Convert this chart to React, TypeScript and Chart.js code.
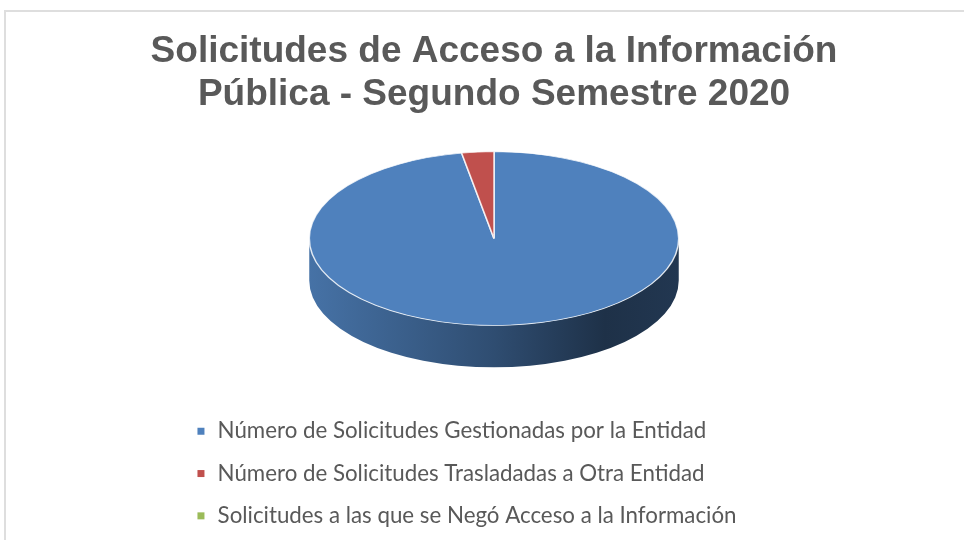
import React, { useEffect, useRef } from "react";
import { Chart, registerables } from "chart.js";

Chart.register(...registerables);

const titleLines = ["Solicitudes de Acceso a la Información", "Pública - Segundo Semestre 2020"];
const categories = [
  "Número de Solicitudes Gestionadas por la Entidad",
  "Número de Solicitudes Trasladadas a Otra Entidad",
  "Solicitudes a las que se Negó Acceso a la Información",
];
const values = [97.2, 2.8, 0];
const sliceColors = ["#4f81bd", "#c0504d", "#9bbb59"];

function shade(hex: string, f: number) {
  const n = parseInt(hex.slice(1), 16);
  const r = Math.round(((n >> 16) & 255) * f);
  const g = Math.round(((n >> 8) & 255) * f);
  const b = Math.round((n & 255) * f);
  return `rgb(${r},${g},${b})`;
}

const pie3d = {
  id: "pie3d",
  beforeDatasetsDraw(chart: any, _args: any, opts: any) {
    const meta = chart.getDatasetMeta(0);
    const arcs = meta.data;
    if (!arcs.length) return;
    const ctx = chart.ctx;
    const { x, y, outerRadius: r } = arcs[0].getProps(["x", "y", "outerRadius"], true);
    const rx = r * opts.scaleX;
    const ry = rx * opts.tilt;
    const depth = rx * opts.depth;
    const cy = y - depth / 2;
    const TAU = Math.PI * 2;
    ctx.save();
    arcs.forEach((arc: any) => {
      const { startAngle, endAngle } = arc.getProps(["startAngle", "endAngle"], true);
      const base = arc.options.backgroundColor;
      const grad = ctx.createLinearGradient(x - rx, 0, x + rx, 0);
      opts.sideStops.forEach(([o, f]: [number, number]) => grad.addColorStop(o, shade(base, f)));
      for (let k = -1; k <= 1; k++) {
        const a = Math.max(startAngle, TAU * k);
        const b = Math.min(endAngle, TAU * k + Math.PI);
        if (b <= a) continue;
        const a0 = a - TAU * k;
        const b0 = b - TAU * k;
        ctx.beginPath();
        ctx.ellipse(x, cy, rx, ry, 0, a0, b0, false);
        ctx.ellipse(x, cy + depth, rx, ry, 0, b0, a0, true);
        ctx.closePath();
        ctx.fillStyle = grad;
        ctx.fill();
      }
    });
    ctx.translate(x, cy);
    ctx.scale(rx / r, ry / r);
    ctx.translate(-x, -y);
    arcs.forEach((arc: any) => {
      if (arc.circumference > 0) arc.draw(ctx, chart.chartArea);
    });
    ctx.restore();
    return false;
  },
};

const legendColumn = {
  id: "legendColumn",
  beforeDraw(chart: any, _a: any, opts: any) {
    const lg = chart.legend;
    if (!lg || !lg.lineWidths || lg.lineWidths._eq) return;
    const m = Math.max(...lg.lineWidths);
    const arr: any = lg.lineWidths.map(() => m + 2 * opts.shift);
    arr._eq = true;
    lg.lineWidths = arr;
  },
};

export default function App() {
  const ref = useRef<HTMLCanvasElement>(null);
  useEffect(() => {
    const baseGen = (Chart as any).overrides.doughnut.plugins.legend.labels.generateLabels;
    const chart = new Chart(ref.current as HTMLCanvasElement, {
      type: "pie",
      data: {
        labels: categories,
        datasets: [
          {
            data: values,
            backgroundColor: sliceColors,
            borderColor: "rgba(255,255,255,0.8)",
            borderWidth: 1.2,
            hoverOffset: 0,
          },
        ],
      },
      options: {
        responsive: false,
        animation: false,
        events: [],
        layout: { padding: { left: 24, right: 0, top: 0, bottom: 3 } },
        plugins: {
          title: {
            display: true,
            text: titleLines,
            color: "#595959",
            font: { family: "'Liberation Sans', Arial, sans-serif", size: 37, weight: "bold", lineHeight: 1.162 },
            padding: { top: 30, bottom: 3 },
          },
          legend: {
            position: "bottom",
            labels: {
              font: { family: "Lato", size: 22.3 },
              color: "#595959",
              usePointStyle: true,
              pointStyle: "rect",
              boxWidth: 11,
              boxHeight: 7,
              padding: 20,
              generateLabels: (c: any) => baseGen(c).map((l: any) => ({ ...l, lineWidth: 0 })),
            },
          },
          tooltip: { enabled: false },
          pie3d: {
            scaleX: 1.32,
            tilt: 0.47,
            depth: 0.227,
            sideStops: [
              [0, 0.88],
              [0.5, 0.6],
              [0.8, 0.38],
              [1, 0.43],
            ],
          },
          legendColumn: { shift: 28 },
        } as any,
      },
      plugins: [pie3d, legendColumn],
    });
    return () => chart.destroy();
  }, []);
  return (
    <div style={{ position: "fixed", left: 0, top: 0, width: 964, height: 540, overflow: "hidden", background: "#fff" }}>
      <canvas ref={ref} width={964} height={540} style={{ display: "block", width: 964, height: 540 }} />
      <div
        style={{
          position: "absolute",
          left: 4,
          top: 10,
          width: 2000,
          height: 2000,
          borderLeft: "2px solid #dedede",
          borderTop: "2px solid #dedede",
          pointerEvents: "none",
        }}
      />
    </div>
  );
}
